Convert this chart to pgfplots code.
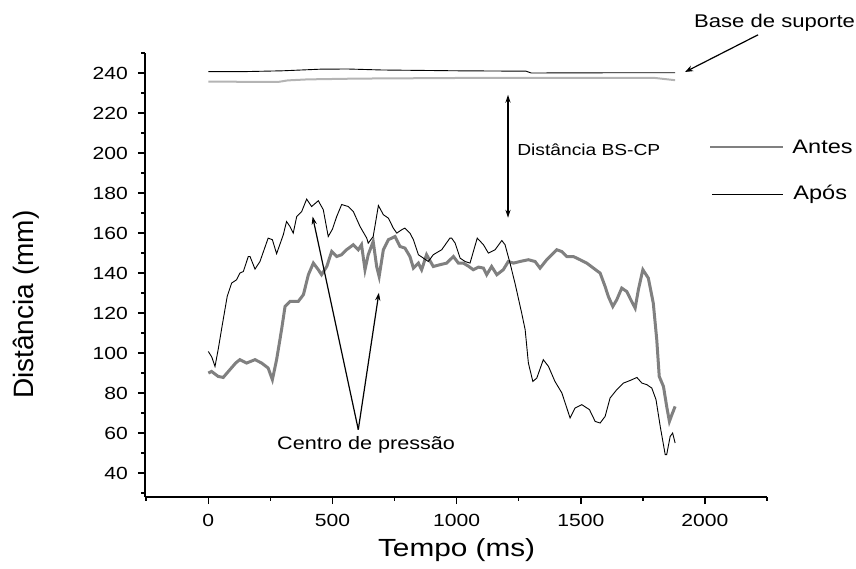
\documentclass[border=0pt]{standalone}
\usepackage{fontspec}
\setmainfont{Liberation Sans}[FakeStretch=1.2]
\newfontfamily\vlabfont{Liberation Sans}
\usepackage{pgfplots}
\pgfplotsset{compat=1.18}
\usetikzlibrary{arrows.meta}

\definecolor{antes}{RGB}{128,128,128}
\definecolor{antesbase}{RGB}{180,180,180}

\begin{document}
\begin{tikzpicture}
\useasboundingbox (-72.5pt,-35.5pt) rectangle (355.5pt,248.5pt);
\begin{axis}[
  at={(0,0)}, anchor=south west,
  scale only axis, width=311pt, height=222.2pt,
  xmin=-255, xmax=2250, ymin=28, ymax=250.3,
  axis x line=bottom, axis y line=left,
  axis line style={-, line width=0.75pt},
  tick align=outside,
  major tick length=3.5pt, minor tick length=1.75pt,
  every tick/.style={black, line width=0.75pt},
  xtick={0,500,...,2000},
  minor xtick={-250,250,750,1250,1750,2250},
  ytick={40,60,...,240},
  minor ytick={30,50,...,250},
  /pgf/number format/assume math mode=true,
  /pgf/number format/1000 sep={},
  tick label style={font=\fontsize{8.8}{10}\selectfont},
  xticklabel style={yshift=-1.5pt},
  yticklabel style={xshift=-1.5pt},
  clip=false,
]
% support base, before and after
\addplot[antesbase, line width=1pt] coordinates {
 (0,235.8) (140,235.7) (280,235.6) (320,236.4) (400,236.9) (600,237.3)
 (1000,237.6) (1500,237.7) (1800,237.6) (1880,236.5)};
\addplot[black, line width=0.45pt] coordinates {
 (0,240.8) (150,240.8) (300,241.2) (450,242) (560,242.1) (700,241.6)
 (1000,241.2) (1280,241) (1300,240.1) (1600,240.2) (1880,240.2)};

% centre of pressure, before
\addplot[antes, line width=1.5pt] coordinates {
 (0,90) (13,90.8) (40,88.3) (60,87.8) (87,91.7) (110,95) (127,96.7) (154,95)
 (188,96.7) (215,95) (241,92.5) (258,86.7) (275,96.7) (295,111.7) (309,123.3)
 (329,125.8) (362,125.8) (383,129.2) (403,139.2) (423,145) (443,141.7)
 (456,139.2) (477,143.3) (497,150.8) (517,148.3) (537,149.2) (557,151.7)
 (584,154.2) (604,151.7) (617,154.2) (631,141.7) (644,149.2) (664,155.8)
 (678,143.3) (688,138.3) (705,151.7) (725,156.7) (752,158.3) (772,153.3)
 (792,152.5) (812,148.3) (826,142.5) (846,145) (859,141.7) (879,149.2)
 (906,143.3) (933,144.2) (960,145) (987,148.3) (1007,145) (1027,145)
 (1047,143.5) (1067,141.7) (1088,143) (1108,142.5) (1121,139.2) (1141,143.3)
 (1162,139.2) (1188,141.7) (1208,145.8) (1229,145) (1255,145.8) (1289,146.7)
 (1316,145.8) (1336,142.5) (1363,146.7) (1403,151.7) (1423,150.8) (1444,148.3)
 (1470,148.3) (1497,146.7) (1524,145) (1551,142.5) (1578,140) (1598,133.3)
 (1611,128.3) (1629,123.3) (1645,126.7) (1665,132.5) (1685,130.8) (1705,125.8)
 (1719,122.5) (1732,131.7) (1750,141.7) (1772,137.5) (1792,125) (1806,106.7)
 (1816,88.3) (1833,83.3) (1846,73.3) (1857,65.8) (1867,69.2) (1880,73.3)};

% centre of pressure, after
\addplot[black, line width=0.45pt] coordinates {
 (0,100.8) (14,98) (27,93.3) (40,102) (53,111.7) (76,128.3) (94,135)
 (114,136.7) (127,140) (141,140.8) (161,148.3) (168,148.3) (188,142)
 (208,145.8) (241,157.5) (258,156.7) (275,149.7) (302,159.2) (315,165.8)
 (329,163.3) (342,160) (356,168.3) (376,170.8) (396,177) (416,173.3)
 (443,176.2) (463,171.7) (483,158.3) (500,162) (517,168.3) (537,174.3)
 (564,173.3) (584,170.8) (611,163.3) (638,157.5) (644,155) (664,158.3)
 (685,173.8) (705,169.2) (725,167.5) (745,162.5) (759,160) (779,161.7)
 (792,162.5) (812,160) (826,156.7) (846,149.2) (866,147.5) (886,145.8)
 (906,149.2) (940,151.7) (973,157.5) (980,157.5) (994,155) (1014,147.5)
 (1034,145.8) (1054,145) (1083,157.5) (1108,154.2) (1128,150) (1155,151.7)
 (1182,156.3) (1195,154.2) (1215,145) (1235,135) (1262,120) (1276,111.7)
 (1289,95) (1307,85.8) (1323,87.5) (1349,96.7) (1370,93.3) (1396,85.8)
 (1424,80) (1457,67.5) (1477,72.5) (1504,74.2) (1535,71.7) (1558,65.8)
 (1578,65) (1598,68.3) (1618,77.5) (1645,81.7) (1672,85) (1699,86.3)
 (1726,87.8) (1746,85) (1766,84.2) (1786,82.5) (1803,76.7) (1820,63.3)
 (1840,49.2) (1846,49.2) (1860,58.3) (1870,60) (1880,55)};

% annotations
\node[anchor=west, inner sep=0, font=\fontsize{9.2}{10}\selectfont]
  at (axis cs:1955,265.2) {Base de suporte};
\draw[-{Stealth[length=4pt,width=3pt]}, line width=0.6pt]
  (axis cs:2214,259.2) -- (axis cs:1920,240.6);

\draw[{Stealth[length=4pt,width=2.6pt]}-{Stealth[length=4pt,width=2.6pt]}, line width=0.6pt]
  (axis cs:1207,229.2) -- (axis cs:1207,167.7);
\node[anchor=west, inner sep=0, font=\fontsize{8}{9}\selectfont]
  at (axis cs:1243,201.7) {Distância BS-CP};

\draw[antes, line width=1pt] (axis cs:2021,203.2) -- (axis cs:2315,203.2);
\node[anchor=west, inner sep=0, font=\fontsize{9.8}{11}\selectfont]
  at (axis cs:2351,203.2) {Antes};
\draw[black, line width=0.5pt] (axis cs:2029,179.2) -- (axis cs:2315,179.2);
\node[anchor=west, inner sep=0, font=\fontsize{9.8}{11}\selectfont]
  at (axis cs:2355,179.2) {Após};

\node[anchor=west, inner sep=0, font=\fontsize{9}{10}\selectfont]
  at (axis cs:276,54.2) {Centro de pressão};
\draw[-{Stealth[length=4pt,width=2.6pt]}, line width=0.6pt]
  (axis cs:604,61.7) -- (axis cs:420,168.3);
\draw[-{Stealth[length=4pt,width=2.6pt]}, line width=0.6pt]
  (axis cs:604,61.7) -- (axis cs:687,130.2);

% axis titles
\node[font=\fontsize{12.4}{14}\selectfont] at (axis cs:1000,1.2) {Tempo (ms)};
\node[rotate=90, font=\vlabfont\fontsize{14}{16}\selectfont]
  at (axis cs:-735,124.2) {Distância (mm)};
\end{axis}
\end{tikzpicture}
\end{document}
